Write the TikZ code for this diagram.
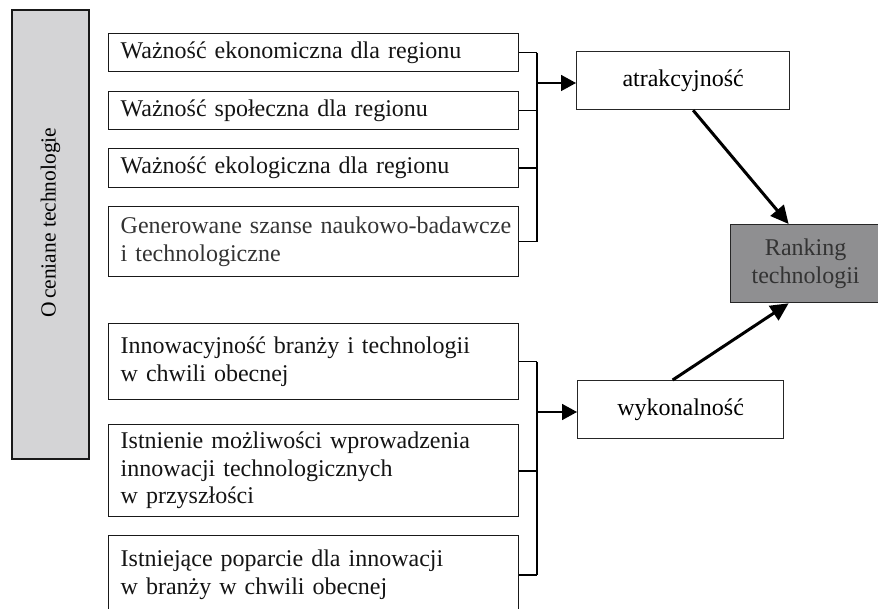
\documentclass[tikz,border=0pt]{standalone}
\usepackage{fontspec}
\setmainfont{Liberation Serif}
\usetikzlibrary{arrows.meta}
\begin{document}
\begin{tikzpicture}[x=1pt,y=-1pt,
  itembox/.style={draw=black!90, line width=1.4pt, fill=white, anchor=north west,
    minimum width=410pt, text width=386pt, inner xsep=12pt, inner ysep=0pt, align=left,
    font=\fontsize{24}{27.5}\selectfont, text=black!92},
  midbox/.style={draw=black!85, line width=1.3pt, fill=white, anchor=north west,
    inner sep=0pt, align=center, font=\fontsize{24}{27.5}\selectfont},
  bus/.style={line width=1.6pt, black},
  harrow/.style={line width=1.6pt, black, -{Triangle[length=15pt,width=16pt]}},
  darrow/.style={line width=3pt, black, -{Triangle[length=18pt,width=17pt]}}]
\useasboundingbox (0,0) rectangle (878,609);
\clip (0,0) rectangle (878,609);

% left vertical box
\node[draw=black!90, line width=1.4pt, fill={rgb,255:red,212;green,212;blue,214},
  rotate=90, minimum width=449pt, minimum height=77pt, inner sep=0pt,
  font=\fontsize{21.5}{26}\selectfont] (ot) at (50.5,234.5)
  {\hspace*{24pt}O\kern3pt ceniane technologie};

% upper group
\node[itembox, minimum height=38pt] (b1) at (108,33) {Ważność ekonomiczna dla regionu};
\node[itembox, minimum height=38pt] (b2) at (108,91) {Ważność społeczna dla regionu};
\node[itembox, minimum height=39pt] (b3) at (108,148) {Ważność ekologiczna dla regionu};
\node[itembox, minimum height=70pt, text=black!80] (b4) at (108,206) {\mbox{Generowane szanse naukowo-badawcze}\\i technologiczne};

% lower group
\node[itembox, minimum height=76pt] (b5) at (108,323) {Innowacyjność branży i technologii\\w chwili obecnej};
\node[itembox, minimum height=92pt] (b6) at (108,424) {Istnienie możliwości wprowadzenia\\innowacji technologicznych\\w przyszłości};
\node[itembox, minimum height=78pt] (b7) at (108,535) {Istniejące poparcie dla innowacji\\w branży w chwili obecnej};

% middle boxes
\node[midbox, minimum width=213pt, minimum height=58pt] (attr) at (576,51) {atrakcyjność};
\node[midbox, minimum width=206pt, minimum height=58pt] (wyk) at (577,380) {wykonalność};

% ranking box
\node[draw=black!85, line width=1.3pt, fill={rgb,255:red,143;green,143;blue,145},
  anchor=north west, minimum width=150pt, minimum height=78pt, inner sep=0pt,
  align=center, text=black!80, font=\fontsize{24}{27.5}\selectfont] (rank) at (730,224)
  {Ranking\\technologii};

% junction points
\coordinate (ja) at (537,83);
\coordinate (jb) at (537,412);

% upper bus
\draw[bus] (b1.east) -- (b1.east -| ja);
\draw[bus] (b2.east) -- (b2.east -| ja);
\draw[bus] (b3.east) -- (b3.east -| ja);
\draw[bus] (b4.east) -- (b4.east -| ja);
\draw[bus] (b1.east -| ja) -- (b4.east -| ja);
\draw[harrow] (ja) -- (ja -| attr.west);

% lower bus
\draw[bus] (b5.east) -- (b5.east -| jb);
\draw[bus] (b6.east) -- (b6.east -| jb);
\draw[bus] (b7.east) -- (b7.east -| jb);
\draw[bus] (b5.east -| jb) -- (b7.east -| jb);
\draw[harrow] (jb) -- (jb -| wyk.west);

% diagonal arrows
\draw[darrow] ([xshift=10pt]attr.south) -- ([xshift=-17pt]rank.north);
\draw[darrow] ([xshift=-8pt]wyk.north) -- ([xshift=-17pt]rank.south);
\end{tikzpicture}
\end{document}
